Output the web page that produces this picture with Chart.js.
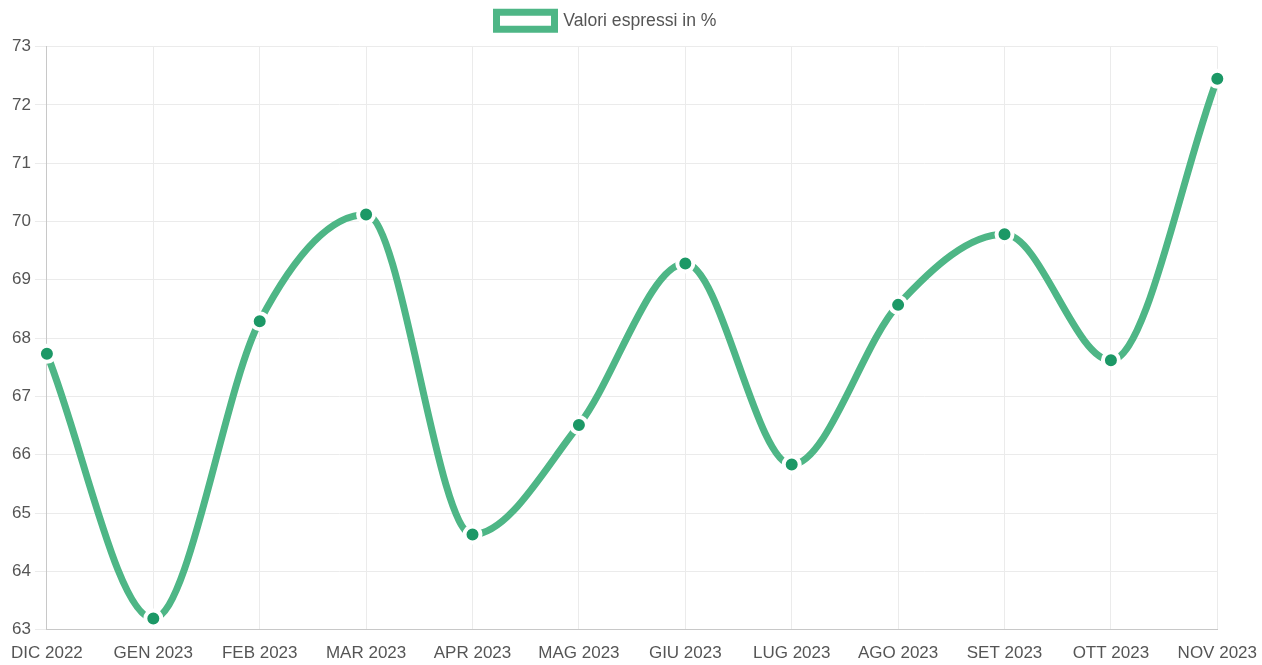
<!DOCTYPE html>
<html>
<head>
<meta charset="utf-8">
<script src="https://cdn.jsdelivr.net/npm/chart.js@4"></script>
<style>
  body { margin: 0; background: #fff; overflow: hidden; }
  canvas { display: block; }
</style>
</head>
<body>
<canvas id="chart" width="1262" height="665"></canvas>
<script>
let months = ['DIC 2022', 'GEN 2023', 'FEB 2023', 'MAR 2023', 'APR 2023', 'MAG 2023',
              'GIU 2023', 'LUG 2023', 'AGO 2023', 'SET 2023', 'OTT 2023', 'NOV 2023'];
let values = [67.73, 63.19, 68.29, 70.12, 64.63, 66.51, 69.28, 65.83, 68.57, 69.78, 67.62, 72.45];
let seriesName = 'Valori espressi in %';

let ctx = document.getElementById('chart').getContext('2d');
let fontFamily = 'Liberation Sans, Arial, Helvetica, sans-serif';

// extra room under the legend, and legend sits a bit left of centre
let legendSpace = {
    id: 'legendSpace',
    beforeInit(chart) {
        let origFit = chart.legend.fit;
        chart.legend.fit = function () {
            origFit.bind(chart.legend)();
            this.height += 7;
        };
    },
    afterLayout(chart) {
        chart.legend.left -= 26;
        chart.legend.right -= 26;
    }
};

let lineChart = new Chart(ctx, {
    type: 'line',
    data: {
        labels: months,
        datasets: [{
            label: seriesName,
            data: values,
            borderColor: 'rgb(78, 182, 134)',
            backgroundColor: '#ffffff',
            borderWidth: 7,
            cubicInterpolationMode: 'monotone',
            pointRadius: 8,
            pointHoverRadius: 8,
            pointBackgroundColor: 'rgb(28, 152, 102)',
            pointBorderColor: '#ffffff',
            pointBorderWidth: 4,
            fill: false
        }]
    },
    options: {
        responsive: false,
        animation: false,
        layout: {
            autoPadding: false,
            padding: { top: -3, right: 5, left: 8, bottom: -4 }
        },
        plugins: {
            legend: {
                labels: {
                    color: '#555',
                    font: { family: fontFamily, size: 17.6 },
                    boxWidth: 58,
                    boxHeight: 17,
                    padding: 15
                }
            },
            tooltip: { enabled: false }
        },
        scales: {
            x: {
                grid: { color: '#ebebeb', drawTicks: true, tickLength: 9, tickColor: 'rgba(0,0,0,0)' },
                border: { color: '#c8c8c8' },
                ticks: {
                    color: '#555',
                    maxRotation: 0,
                    autoSkip: false,
                    padding: 5,
                    font: { family: fontFamily, size: 17 }
                }
            },
            y: {
                min: 63,
                max: 73,
                grid: { color: '#ebebeb', tickLength: 12 },
                border: { color: '#c8c8c8' },
                ticks: {
                    stepSize: 1,
                    color: '#555',
                    padding: 4,
                    font: { family: fontFamily, size: 17 }
                }
            }
        }
    },
    plugins: [legendSpace]
});
</script>
</body>
</html>
